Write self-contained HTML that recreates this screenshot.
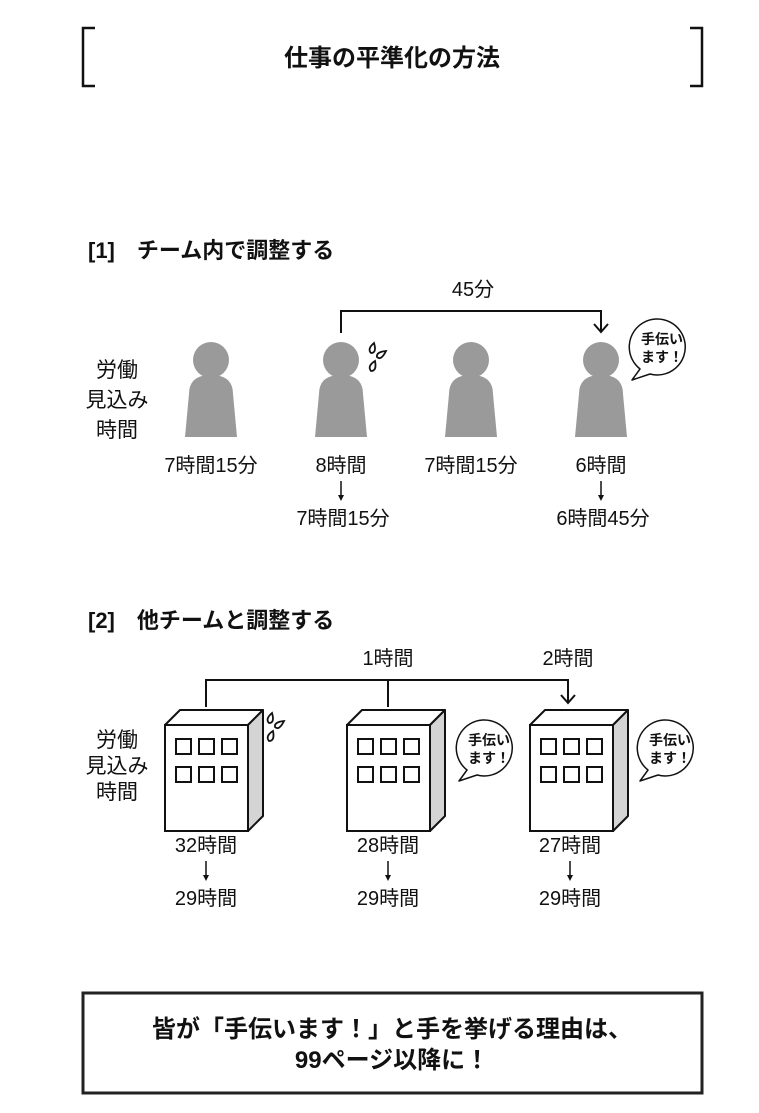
<!DOCTYPE html>
<html><head><meta charset="utf-8"><style>
html,body{margin:0;padding:0;background:#fff;}
svg{display:block;}
text{font-family:"Liberation Sans","Noto Sans CJK JP",sans-serif;fill:#111;}
</style></head><body>
<svg width="759" height="1113" viewBox="0 0 759 1113" xmlns="http://www.w3.org/2000/svg">
<defs>
<g id="person" fill="#9a9a9a">
  <circle cx="0" cy="0" r="18"/>
  <path d="M-22,34 Q-22,15 0,15 Q22,15 22,34 L26,77 L-26,77 Z"/>
</g>
<g id="bld">
  <path d="M0,15 L15,0 L98,0 L83,15 Z" fill="#fff" stroke="#111" stroke-width="2" stroke-linejoin="round"/>
  <path d="M83,15 L98,0 L98,106 L83,121 Z" fill="#d4d4d4" stroke="#111" stroke-width="2" stroke-linejoin="round"/>
  <rect x="0" y="15" width="83" height="106" fill="#fff" stroke="#111" stroke-width="2"/>
  <g fill="none" stroke="#111" stroke-width="2">
    <rect x="11" y="29" width="15" height="15"/><rect x="34" y="29" width="15" height="15"/><rect x="57" y="29" width="15" height="15"/>
    <rect x="11" y="57" width="15" height="15"/><rect x="34" y="57" width="15" height="15"/><rect x="57" y="57" width="15" height="15"/>
  </g>
</g>
<g id="bubble">
  <path d="M-20,22 A28,28 0 1 1 -10,27 L-28,33 Z" fill="#fff" stroke="#111" stroke-width="1.5" stroke-linejoin="round"/>
  <text x="2" y="-3" font-size="14" text-anchor="middle" font-weight="bold">手伝い</text>
  <text x="2" y="15" font-size="14" text-anchor="middle" font-weight="bold">ます！</text>
</g>
<g id="sweat" fill="none" stroke="#111" stroke-width="1.8">
  <path d="M2,0 Q-5,6 -1,10 Q5,10 2,0 Z"/>
  <path d="M14,8 Q4,9 5,14 Q9,18 14,8 Z"/>
  <path d="M3,18 Q-5,23 -1,28 Q5,28 3,18 Z"/>
</g>
</defs>

<path d="M95,28 L83,28 L83,86 L95,86" fill="none" stroke="#111" stroke-width="2.5"/>
<path d="M690,28 L702,28 L702,86 L690,86" fill="none" stroke="#111" stroke-width="2.5"/>
<text x="392" y="66" font-size="24" text-anchor="middle" font-weight="bold">仕事の平準化の方法</text>

<text x="88" y="258" font-size="22" font-weight="bold">[1]　チーム内で調整する</text>
<text x="473" y="296" font-size="20" text-anchor="middle">45分</text>
<path d="M341,333 L341,311 L601,311 L601,332" fill="none" stroke="#111" stroke-width="2"/>
<path d="M594,324 L601,332 L608,324" fill="none" stroke="#111" stroke-width="2"/>

<g font-size="21" text-anchor="middle">
<text x="117" y="377">労働</text>
<text x="117" y="407">見込み</text>
<text x="117" y="437">時間</text>
</g>

<use href="#person" x="211" y="360"/>
<use href="#person" x="341" y="360"/>
<use href="#person" x="471" y="360"/>
<use href="#person" x="601" y="360"/>
<use href="#sweat" x="372" y="343"/>
<use href="#bubble" x="660" y="347"/>

<g font-size="20" text-anchor="middle">
<text x="211" y="472">7時間15分</text>
<text x="341" y="472">8時間</text>
<text x="471" y="472">7時間15分</text>
<text x="601" y="472">6時間</text>
<text x="343" y="525">7時間15分</text>
<text x="603" y="525">6時間45分</text>
</g>
<g stroke="#111" stroke-width="1.5">
<line x1="341" y1="481" x2="341" y2="499"/><line x1="601" y1="481" x2="601" y2="499"/>
</g>
<path d="M338,495 L341,501 L344,495Z M598,495 L601,501 L604,495Z" fill="#111"/>

<text x="88" y="628" font-size="22" font-weight="bold">[2]　他チームと調整する</text>
<text x="388" y="665" font-size="20" text-anchor="middle">1時間</text>
<text x="568" y="665" font-size="20" text-anchor="middle">2時間</text>
<path d="M206,707 L206,680 L568,680 L568,703" fill="none" stroke="#111" stroke-width="2"/>
<line x1="388" y1="680" x2="388" y2="707" stroke="#111" stroke-width="2"/>
<path d="M561,695 L568,703 L575,695" fill="none" stroke="#111" stroke-width="2"/>

<g font-size="21" text-anchor="middle">
<text x="117" y="747">労働</text>
<text x="117" y="773">見込み</text>
<text x="117" y="799">時間</text>
</g>

<use href="#bld" x="165" y="710"/>
<use href="#bld" x="347" y="710"/>
<use href="#bld" x="530" y="710"/>
<use href="#sweat" x="270" y="713"/>
<use href="#bubble" x="487" y="748"/>
<use href="#bubble" x="668" y="748"/>

<g font-size="20" text-anchor="middle">
<text x="206" y="852">32時間</text>
<text x="388" y="852">28時間</text>
<text x="570" y="852">27時間</text>
<text x="206" y="905">29時間</text>
<text x="388" y="905">29時間</text>
<text x="570" y="905">29時間</text>
</g>
<g stroke="#111" stroke-width="1.5">
<line x1="206" y1="861" x2="206" y2="879"/><line x1="388" y1="861" x2="388" y2="879"/><line x1="570" y1="861" x2="570" y2="879"/>
</g>
<path d="M203,875 L206,881 L209,875Z M385,875 L388,881 L391,875Z M567,875 L570,881 L573,875Z" fill="#111"/>

<rect x="83" y="993" width="619" height="100" fill="#fff" stroke="#222" stroke-width="3"/>
<text x="392" y="1037" font-size="24" text-anchor="middle" font-weight="bold">皆が「手伝います！」と手を挙げる理由は、</text>
<text x="392" y="1068" font-size="24" text-anchor="middle" font-weight="bold">99ページ以降に！</text>
</svg>
</body></html>
